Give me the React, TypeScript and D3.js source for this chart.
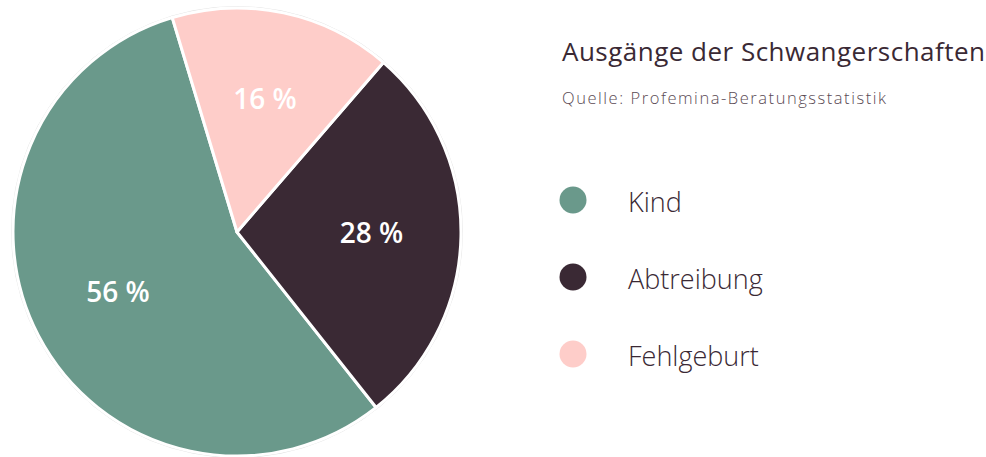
import React from "react";
import * as d3 from "d3";

const categories = ["Kind", "Abtreibung", "Fehlgeburt"];
const values = [56, 28, 16];
const labels = ["56 %", "28 %", "16 %"];
const colors = ["#6A998B", "#3A2934", "#FECDC9"];
const title = "Ausgänge der Schwangerschaften";
const subtitle = "Quelle: Profemina-Beratungsstatistik";

const W = 986;
const H = 457;
const cx = 237;
const cy = 232;
const R = 224;
const START = (343.2 * Math.PI) / 180;

export default function App() {
  const pie = d3
    .pie<number>()
    .sort(null)
    .value((d) => d)
    .startAngle(START)
    .endAngle(START - 2 * Math.PI);
  const arcs = pie(values);
  const arc = d3.arc<d3.PieArcDatum<number>>().innerRadius(0).outerRadius(R);
  const labelArc = d3
    .arc<d3.PieArcDatum<number>>()
    .innerRadius(R * 0.6)
    .outerRadius(R * 0.6);

  const legendY = d3.scalePoint<string>().domain(categories).range([200, 354]);

  return (
    <svg
      width={W}
      height={H}
      style={{ position: "absolute", left: 0, top: 0, background: "#fff" }}
      fontFamily="'Open Sans', Lato, sans-serif"
    >
      <circle cx={cx} cy={cy} r={R + 1.5} fill="none" stroke="#e3e3e3" strokeWidth={1} />
      <g transform={`translate(${cx},${cy})`}>
        {arcs.map((a, i) => (
          <path key={i} d={arc(a) || ""} fill={colors[i]} stroke="#fff" strokeWidth={3} strokeLinejoin="round" />
        ))}
        {arcs.map((a, i) => {
          const [x, y] = labelArc.centroid(a);
          return (
            <text
              key={"l" + i}
              x={x}
              y={y - 3}
              textAnchor="middle"
              dominantBaseline="central"
              fill="#fff"
              fontSize={28}
              fontWeight={600}
            >
              {labels[i]}
            </text>
          );
        })}
      </g>
      <text x={562} y={61} fontSize={26} fill="#3A2934" fontWeight={400} textLength={423} lengthAdjust="spacing">
        {title}
      </text>
      <text x={562} y={104} fontSize={16.5} fill="#5a4a54" fontWeight={300} textLength={324} lengthAdjust="spacing">
        {subtitle}
      </text>
      {categories.map((c, i) => (
        <g key={c}>
          <circle cx={573} cy={legendY(c)} r={13.5} fill={colors[i]} />
          <text
            x={628}
            y={(legendY(c) || 0) + 1}
            dominantBaseline="central"
            fontSize={27}
            fontWeight={300}
            fill="#3A2934"
          >
            {c}
          </text>
        </g>
      ))}
    </svg>
  );
}
